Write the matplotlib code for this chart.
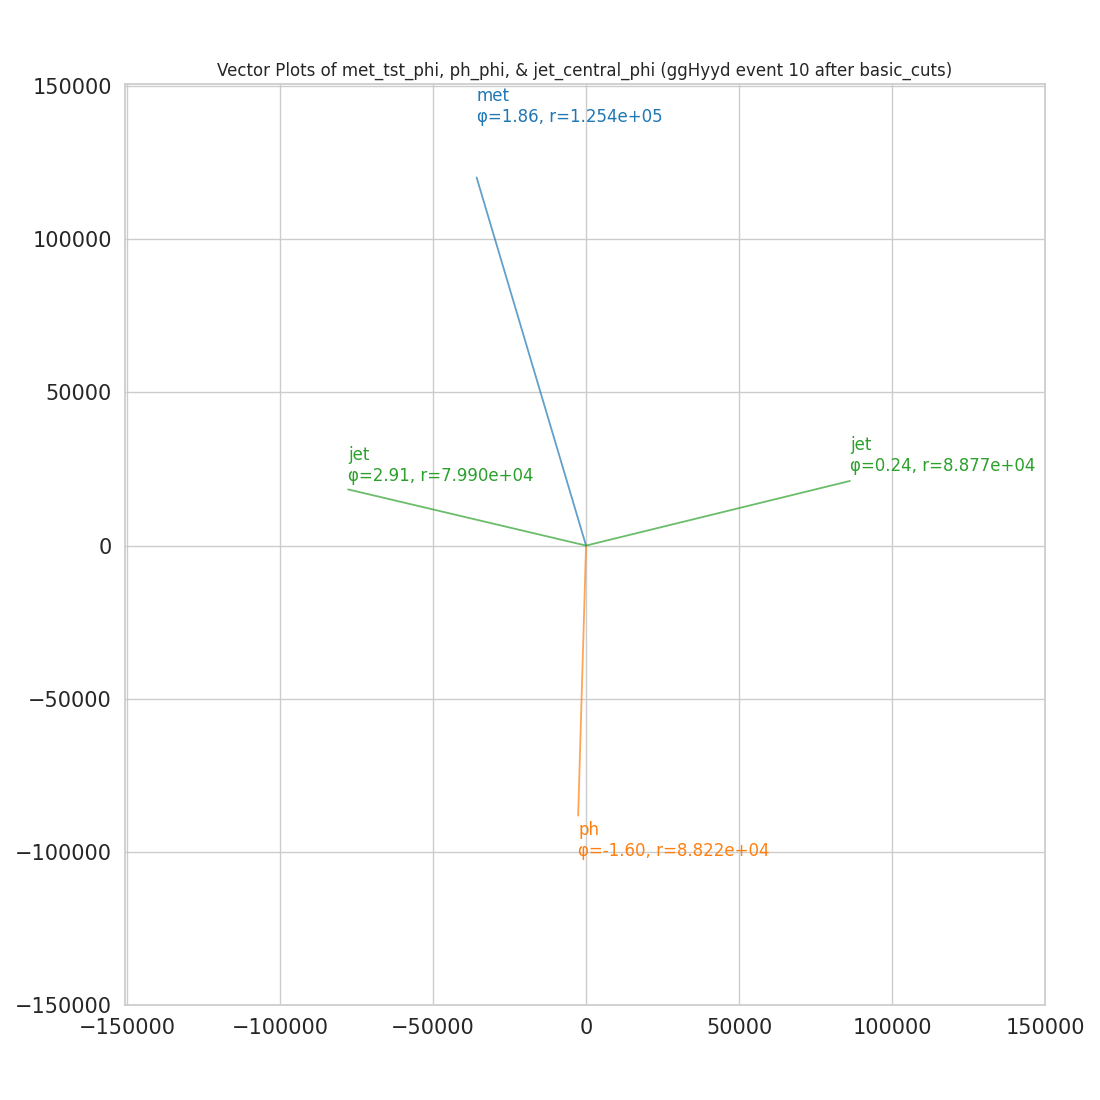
import numpy as np
import matplotlib
matplotlib.use("Agg")
import matplotlib.pyplot as plt
import seaborn as sns

sns.set_theme(style="whitegrid")
plt.rcParams['font.family'] = ['DejaVu Sans']

# vectors: name, phi, r
names = ["met", "ph", "jet", "jet"]
phis = [1.86, -1.60, 0.24, 2.91]
rs = [1.254e5, 8.822e4, 8.877e4, 7.990e4]
colors = ["tab:blue", "tab:orange", "tab:green", "tab:green"]

fig = plt.figure(figsize=(11, 11), dpi=100)
ax = fig.add_axes([0.1136, 0.0864, 0.8364, 0.8372])

for name, phi, r, c in zip(names, phis, rs, colors):
    x = r * np.cos(phi)
    y = r * np.sin(phi)
    ax.plot([0, x], [0, y], color=c, alpha=0.7, lw=1.3)
    ax.text(x, y * 1.15, f"{name}\nφ={phi:.2f}, r={r:.3e}", color=c, fontsize=12)

ax.set_xlim(-150700, 150000)
ax.set_ylim(-150000, 150700)
ax.set_xticks([-150000, -100000, -50000, 0, 50000, 100000, 150000])
ax.set_yticks([-150000, -100000, -50000, 0, 50000, 100000, 150000])
ax.tick_params(labelsize=15)
ax.set_title("Vector Plots of met_tst_phi, ph_phi, & jet_central_phi (ggHyyd event 10 after basic_cuts)",
             fontsize=12)

fig.savefig("out.png", dpi=100)
